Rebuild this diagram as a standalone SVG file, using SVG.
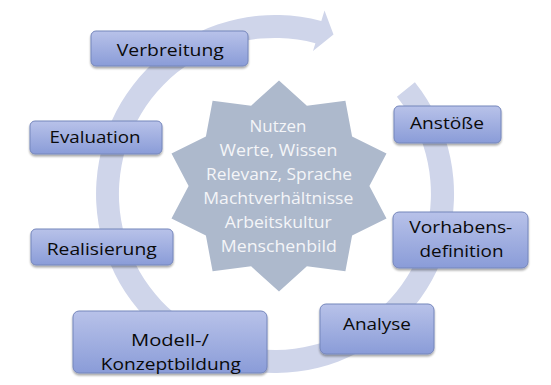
<svg xmlns="http://www.w3.org/2000/svg" width="551" height="385" viewBox="0 0 551 385">
  <defs>
    <linearGradient id="boxGrad" x1="0" y1="0" x2="0" y2="1">
      <stop offset="0" stop-color="#b8c2e9"/>
      <stop offset="1" stop-color="#8a9cd8"/>
    </linearGradient>
    <filter id="shadow" x="-10%" y="-10%" width="120%" height="140%">
      <feGaussianBlur in="SourceAlpha" stdDeviation="1.2"/>
      <feOffset dx="0" dy="1.5" result="b"/>
      <feComponentTransfer><feFuncA type="linear" slope="0.35"/></feComponentTransfer>
      <feMerge><feMergeNode/><feMergeNode in="SourceGraphic"/></feMerge>
    </filter>
  </defs>
  <style>
    .box { fill: url(#boxGrad); stroke: #7586bb; stroke-width: 1; filter: url(#shadow); }
    .lbl { font-family: "Open Sans", "Noto Sans", sans-serif; font-size: 16.5px; fill: #0a0a0a; text-anchor: middle; }
    .star { fill: #adb9cc; }
    .stxt { font-family: "Open Sans", "Noto Sans", sans-serif; font-size: 15.5px; fill: #f4f5f8; text-anchor: middle; }
    .band { fill: #cfd5ea; }
  </style>
  <rect width="551" height="385" fill="#ffffff"/>

  <g id="connectors">
    <path class="band" d="M414.9,82.3 A179,179 0 1 1 321.3,21.1 L324.5,10.5 L333.5,34.5 L313.0,51.0 L315.4,43.3 A156,156 0 1 0 396.9,96.7 Z"/>
  </g>

  <g id="center">
    <polygon class="star" points="279.0,80.5 306.9,105.7 345.4,100.7 352.1,136.4 386.5,153.4 369.4,186.0 386.5,218.6 352.1,235.6 345.4,271.3 306.9,266.3 279.0,291.5 251.1,266.3 212.6,271.3 205.9,235.6 171.5,218.6 188.6,186.0 171.5,153.4 205.9,136.4 212.6,100.7 251.1,105.7"/>
    <text class="stxt" x="278" y="131.7" textLength="57" lengthAdjust="spacingAndGlyphs">Nutzen</text>
    <text class="stxt" x="278.5" y="155.5" textLength="118" lengthAdjust="spacingAndGlyphs">Werte, Wissen</text>
    <text class="stxt" x="279" y="179.5" textLength="146" lengthAdjust="spacingAndGlyphs">Relevanz, Sprache</text>
    <text class="stxt" x="278.3" y="203.5" textLength="150" lengthAdjust="spacingAndGlyphs">Machtverhältnisse</text>
    <text class="stxt" x="278.3" y="227.7" textLength="107" lengthAdjust="spacingAndGlyphs">Arbeitskultur</text>
    <text class="stxt" x="278.8" y="251.7" textLength="116" lengthAdjust="spacingAndGlyphs">Menschenbild</text>
  </g>

  <g id="verbreitung">
    <rect class="box" x="91" y="31" width="157" height="35" rx="5"/>
    <text class="lbl" x="170.3" y="55.7" textLength="107" lengthAdjust="spacingAndGlyphs">Verbreitung</text>
  </g>
  <g id="evaluation">
    <rect class="box" x="30" y="121" width="132" height="33" rx="5"/>
    <text class="lbl" x="95" y="143.3" textLength="91" lengthAdjust="spacingAndGlyphs">Evaluation</text>
  </g>
  <g id="realisierung">
    <rect class="box" x="31" y="229" width="142" height="36" rx="5"/>
    <text class="lbl" x="101.7" y="254.7" textLength="110" lengthAdjust="spacingAndGlyphs">Realisierung</text>
  </g>
  <g id="modellbildung">
    <rect class="box" x="73" y="311" width="194" height="62" rx="6"/>
    <text class="lbl" x="170" y="345.7" textLength="78" lengthAdjust="spacingAndGlyphs">Modell-/</text>
    <text class="lbl" x="170.8" y="370" textLength="140" lengthAdjust="spacingAndGlyphs">Konzeptbildung</text>
  </g>
  <g id="analyse">
    <rect class="box" x="320" y="304" width="114" height="50" rx="6"/>
    <text class="lbl" x="377" y="330" textLength="68" lengthAdjust="spacingAndGlyphs">Analyse</text>
  </g>
  <g id="anstoesse">
    <rect class="box" x="394" y="106" width="107" height="37" rx="5"/>
    <text class="lbl" x="447" y="129.3" textLength="74" lengthAdjust="spacingAndGlyphs">Anstöße</text>
  </g>
  <g id="vorhabensdefinition">
    <rect class="box" x="393" y="212" width="135" height="56" rx="6"/>
    <text class="lbl" x="460.8" y="232.7" textLength="103" lengthAdjust="spacingAndGlyphs">Vorhabens-</text>
    <text class="lbl" x="461.5" y="256.7" textLength="84" lengthAdjust="spacingAndGlyphs">definition</text>
  </g>
</svg>
